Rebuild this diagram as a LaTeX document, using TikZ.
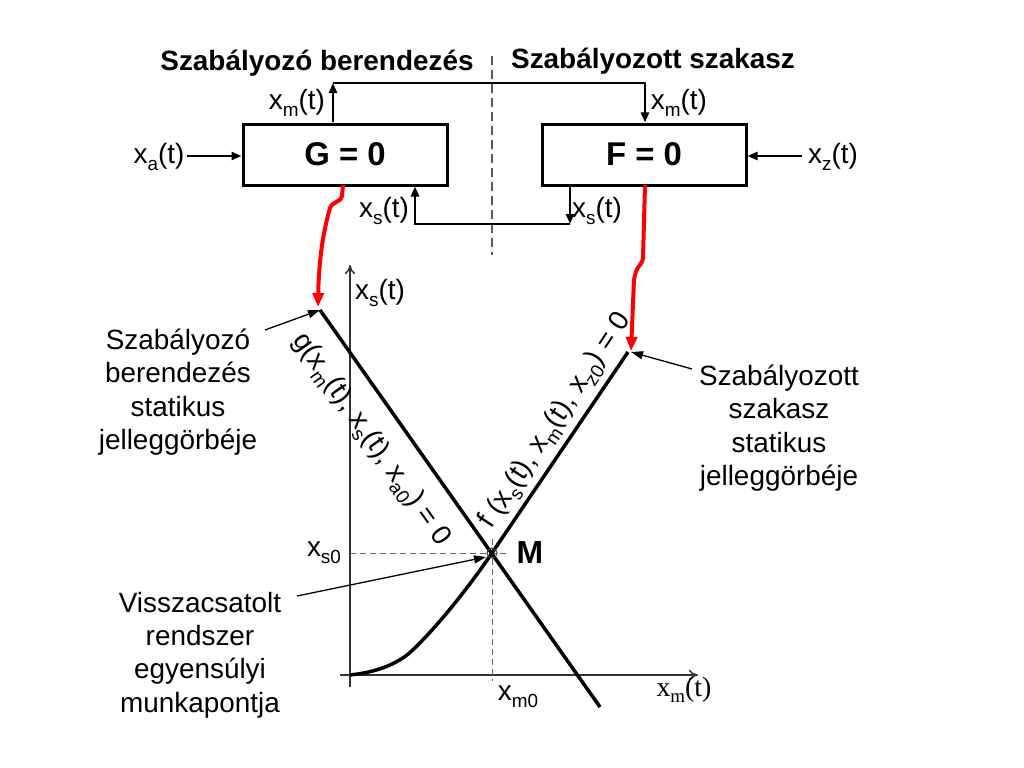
\documentclass[tikz,border=0pt]{standalone}
\usepackage{fontspec}
\setmainfont{Liberation Sans}
\newfontfamily\serifx{Liberation Serif}
\usetikzlibrary{arrows.meta,calc}
\newcommand\sbx[1]{\raisebox{-7pt}{\fontsize{19}{19}\selectfont #1}}
\newcommand\sbser[1]{\raisebox{-6pt}{\fontsize{19}{19}\selectfont #1}}
\begin{document}
\begin{tikzpicture}[x=1bp,y=-1bp,
  box/.style={draw,line width=3bp,minimum width=204bp,minimum height=61bp,inner sep=0,font=\fontsize{33}{36}\selectfont\bfseries},
  sig/.style={line width=2.5bp,-{Triangle[length=10bp,width=8bp]}},
  lbl/.style={inner sep=0,font=\fontsize{28}{34}\selectfont},
  txt/.style={inner sep=0,align=center,font=\fontsize{28}{33.5}\selectfont},
  ttl/.style={inner sep=0,font=\fontsize{28}{34}\selectfont\bfseries},
  axis/.style={line width=1.5bp,draw=black!80,-{To[length=9bp,width=10bp]}},
  crv/.style={line width=3.5bp},
  dsh/.style={line width=1bp,draw=black!60,dash pattern=on 6bp off 4bp},
  pnt/.style={line width=1.3bp,-{Triangle[length=12bp,width=8bp]}},
  redarr/.style={line width=4bp,draw=red,-{Triangle[length=14bp,width=11bp]},red}
]
\useasboundingbox (0,0) rectangle (1024,768);

% titles
\node[ttl] (t1) at (317,63) {Szabályozó berendezés};
\node[ttl] (t2) at (653,61) {Szabályozott szakasz};
\draw[line width=1.5bp,draw=black!65,dash pattern=on 9bp off 5bp] (492,56) -- (492,255);

% blocks
\node[box] (G) at (345,154.5) {G = 0};
\node[box] (F) at (644,154.5) {F = 0};

% xm loop
\coordinate (mtl) at (333,83);
\coordinate (mtr) at (645,83);
\draw[sig] (G.north -| mtl) -- (mtl);
\draw[sig] (mtl) -- (mtr) -- (F.north -| mtr);
\node[lbl] (xm1) at (297,103) {x\sbx{m}(t)};
\node[lbl] (xm2) at (679,103) {x\sbx{m}(t)};

% xs loop
\coordinate (sr) at (570,224);
\coordinate (sl) at (415,224);
\draw[sig] (F.south -| sr) -- (sr);
\draw[sig] (sr) -- (sl) -- (G.south -| sl);
\node[lbl] (xs1) at (384,211) {x\sbx{s}(t)};
\node[lbl] (xs2) at (597,211) {x\sbx{s}(t)};

% inputs
\node[lbl] (xa) at (159,157) {x\sbx{a}(t)};
\draw[sig] ($(xa.east)+(2,-1)$) -- (G.west |- {$(xa.east)+(2,-1)$});
\node[lbl] (xz) at (833,157) {x\sbx{z}(t)};
\draw[sig] ($(xz.west)+(-6,-1)$) -- (F.east |- {$(xz.west)+(-6,-1)$});

% graph
\coordinate (O) at (350,675);
\coordinate (gA) at (320,310);
\coordinate (gB) at (600,707);
\coordinate (M) at (492,553);
\coordinate (fT) at (628,352);
\draw[axis] (350,687) -- (350,265);
\draw[axis] (340,675) -- (698,675);
\node[lbl] (xsax) at (380,293) {x\sbx{s}(t)};
\node[inner sep=0,font=\serifx\fontsize{28}{34}\selectfont] (xmax) at (684,690) {x\sbser{m}(t)};

\draw[dsh] (O |- M) -- ($(M)+(18,0)$);
\draw[dsh] ($(M)+(0,-14)$) -- ($(O -| M)+(0,6)$);

\draw[crv] (gA) -- (gB);
\draw[crv] (O) .. controls (378,672) and (395,664) .. (407,655) .. controls (425,640) and (460,600) .. (M) -- (fT);
\draw[line width=1bp,draw=black!75] (M) circle (5);
\node[inner sep=0,font=\fontsize{32}{34}\selectfont\bfseries] (Ml) at (530,553) {M};
\node[lbl] (xs0) at (324,553) {x\sbx{s0}};
\node[lbl] (xm0) at (518,697) {x\sbx{m0}};

\node[lbl,rotate=-54.8] (glab) at (371,440) {g(x\sbx{m}(t), x\sbx{s}(t), x\sbx{a0}) = 0};
\node[lbl,rotate=56.5] (flab) at (556,421) {f (x\sbx{s}(t), x\sbx{m}(t), x\sbx{z0}) = 0};

% side texts
\node[txt] (L1) at (178,392) {Szabályozó\\berendezés\\statikus\\jelleggörbéje};
\node[txt] (L2) at (779,428) {Szabályozott\\szakasz\\statikus\\jelleggörbéje};
\node[txt] (L3) at (200,655) {Visszacsatolt\\rendszer\\egyensúlyi\\munkapontja};
\coordinate (p1) at (265,330);
\coordinate (p2) at (692,369);
\coordinate (p3) at (297,596);
\draw[pnt] (p1) -- (gA);
\draw[pnt] (p2) -- ($(fT)+(3,0)$);
\draw[pnt] (p3) -- ($(M)+(-6,4)$);

% red arrows
\coordinate (rg) at (343,185);
\coordinate (rf) at (645,185);
\draw[redarr] (rg) -- (342,196) .. controls (340,203) and (333,201) .. (330,208) .. controls (326,222) and (319,250) .. ($(gA)+(-2,-3)$);
\draw[redarr] (rf) -- (643,258) .. controls (642,266) and (636,265) .. (634,280) -- ($(fT)+(3,-1)$);
\end{tikzpicture}
\end{document}
